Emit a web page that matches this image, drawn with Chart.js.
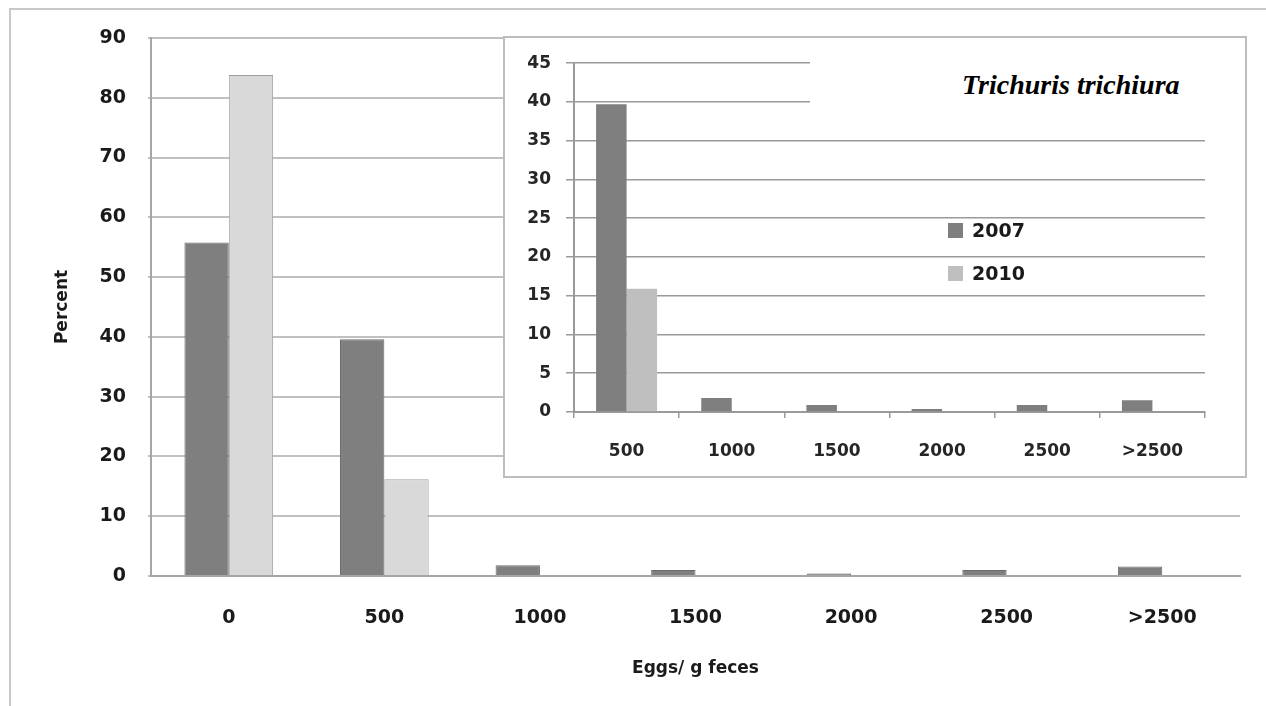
<!DOCTYPE html>
<html>
<head>
<meta charset="utf-8">
<script src="https://cdn.jsdelivr.net/npm/chart.js@4.4.1/dist/chart.umd.min.js"></script>
<style>
  body { margin: 0; background: #fff; }
  #wrap { position: relative; width: 1266px; height: 706px; overflow: hidden; }
  #frame { position: absolute; left: 9px; top: 8px; width: 1300px; height: 800px;
           border-left: 2px solid #c8c8c8; border-top: 2px solid #c8c8c8; }
  #main { position: absolute; left: 0; top: 0; }
  #insetBox { position: absolute; left: 503px; top: 36px; width: 740px; height: 438px;
              border: 2px solid #bdbdbd; background: #fff; }
  #inset { position: absolute; left: 0; top: 0; }
  #title { position: absolute; left: 810px; top: 55px; width: 400px; height: 53px; background: #fff; }
  #title span { position: absolute; left: 152px; top: 14px; white-space: nowrap; line-height: 34px;
                font: italic bold 28px "Liberation Serif", serif; color: #000; }
  #legend { position: absolute; left: 948px; top: 220px; font: bold 19px "DejaVu Sans", sans-serif; color: #1a1a1a; }
  #legend div { height: 20px; line-height: 20px; margin-bottom: 23px; white-space: nowrap; }
  #legend i { display: inline-block; width: 15px; height: 15px; margin-right: 9px; vertical-align: -1px; }
</style>
</head>
<body>
<div id="wrap">
  <div id="frame"></div>
  <canvas id="main" width="1266" height="706"></canvas>
  <div id="insetBox"><canvas id="inset" width="740" height="438"></canvas></div>
  <div id="title"><span>Trichuris trichiura</span></div>
  <div id="legend"></div>
</div>
<script>
// main chart: % of people by egg count class
const mainCats = ['0', '500', '1000', '1500', '2000', '2500', '>2500'];
const main2007 = [55.8, 39.6, 1.8, 1.0, 0.4, 1.0, 1.6];
const main2010 = [83.8, 16.2, 0, 0, 0, 0, 0];

// inset (zoom on the positive classes)
const insetCats = ['500', '1000', '1500', '2000', '2500', '>2500'];
const inset2007 = [39.7, 1.8, 0.9, 0.4, 0.9, 1.5];
const inset2010 = [15.9, 0, 0, 0, 0, 0];

const seriesNames = ['2007', '2010'];
const insetColors = ['#7f7f7f', '#bfbfbf'];

Chart.defaults.animation = false;
Chart.defaults.plugins.legend.display = false;
Chart.defaults.plugins.tooltip.enabled = false;

const tickFont = { family: 'DejaVu Sans', weight: 'bold', size: 19 };
const titleFont = { family: 'DejaVu Sans', weight: 'bold', size: 17 };

new Chart(document.getElementById('main').getContext('2d'), {
  type: 'bar',
  data: {
    labels: mainCats,
    datasets: [
      { label: seriesNames[0], data: main2007, backgroundColor: '#7f7f7f', borderColor: '#6a6a6a', borderWidth: 1 },
      { label: seriesNames[1], data: main2010, backgroundColor: '#d9d9d9', borderColor: '#a0a0a0', borderWidth: 1 }
    ]
  },
  options: {
    responsive: false,
    layout: { padding: { left: 50, top: 38, right: 26, bottom: 10 } },
    datasets: { bar: { categoryPercentage: 0.57, barPercentage: 1.0 } },
    scales: {
      x: {
        grid: { display: false },
        border: { color: '#a6a6a6', width: 2 },
        ticks: { font: tickFont, color: '#1a1a1a', padding: 23, maxRotation: 0 },
        title: { display: true, text: 'Eggs/ g feces', font: titleFont, color: '#1a1a1a', padding: { bottom: 17 } },
        afterFit: s => { s.height = 120; }
      },
      y: {
        min: 0, max: 90,
        grid: { color: '#c0c0c0', lineWidth: 2, tickLength: 3 },
        border: { color: '#a6a6a6', width: 2 },
        ticks: { stepSize: 10, font: tickFont, color: '#1a1a1a', padding: 22 },
        title: { display: true, text: 'Percent', font: titleFont, color: '#1a1a1a', padding: { top: 2 } },
        afterFit: s => { s.width = 101; }
      }
    }
  }
});

const insetFont = { family: 'DejaVu Sans', weight: 'bold', size: 17 };

new Chart(document.getElementById('inset').getContext('2d'), {
  type: 'bar',
  data: {
    labels: insetCats,
    datasets: [
      { label: seriesNames[0], data: inset2007, backgroundColor: insetColors[0] },
      { label: seriesNames[1], data: inset2010, backgroundColor: insetColors[1] }
    ]
  },
  options: {
    responsive: false,
    layout: { padding: { left: 0, top: 25, right: 40, bottom: 10 } },
    datasets: { bar: { categoryPercentage: 0.58, barPercentage: 1.0 } },
    scales: {
      x: {
        grid: { display: true, drawOnChartArea: false, tickLength: 6, color: '#9a9a9a', lineWidth: 1.5 },
        border: { color: '#9a9a9a', width: 2 },
        ticks: { font: insetFont, color: '#262626', padding: 23, maxRotation: 0 },
        afterFit: s => { s.height = 54; }
      },
      y: {
        min: 0, max: 45,
        grid: { color: '#9a9a9a', lineWidth: 1.5, tickLength: 8 },
        border: { color: '#9a9a9a', width: 2 },
        ticks: { stepSize: 5, font: insetFont, color: '#262626', padding: 15 },
        afterFit: s => { s.width = 69; }
      }
    }
  }
});

// legend built from the series names
const legend = document.getElementById('legend');
seriesNames.forEach((name, i) => {
  const row = document.createElement('div');
  const sw = document.createElement('i');
  sw.style.background = insetColors[i];
  row.appendChild(sw);
  row.appendChild(document.createTextNode(name));
  legend.appendChild(row);
});
</script>
</body>
</html>
